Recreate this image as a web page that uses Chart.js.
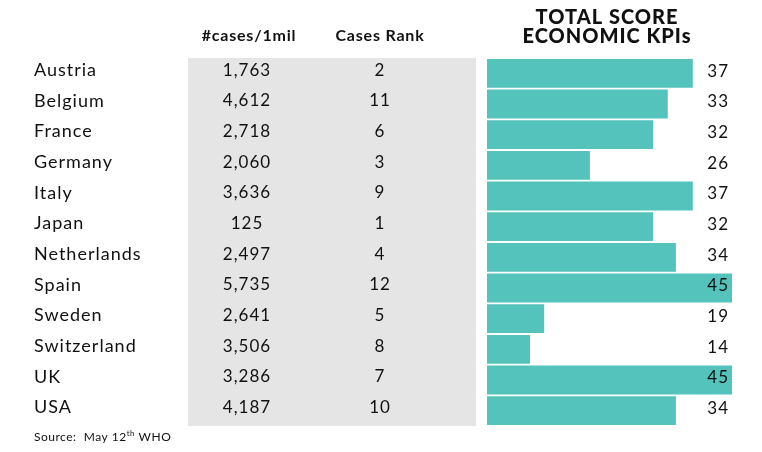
<!DOCTYPE html>
<html>
<head>
<meta charset="utf-8">
<script src="https://cdn.jsdelivr.net/npm/chart.js@4.4.1/dist/chart.umd.min.js"></script>
<style>
  html, body { margin: 0; padding: 0; background: #fff; }
  #wrap { width: 762px; height: 452px; }
</style>
</head>
<body>
<div id="wrap"><canvas id="chart" width="762" height="452"></canvas></div>
<script>
// data
const countries = ['Austria', 'Belgium', 'France', 'Germany', 'Italy', 'Japan',
  'Netherlands', 'Spain', 'Sweden', 'Switzerland', 'UK', 'USA']
const casesPerMil = ['1,763', '4,612', '2,718', '2,060', '3,636', '125',
  '2,497', '5,735', '2,641', '3,506', '3,286', '4,187']
const casesRank = [2, 11, 6, 3, 9, 1, 4, 12, 5, 8, 7, 10]
const scoreLabels = [37, 33, 32, 26, 37, 32, 34, 45, 19, 14, 45, 34]
// bar lengths as drawn (they don't follow the labels exactly)
const barValues = [37.8, 33.2, 30.5, 18.9, 37.8, 30.5, 34.7, 45, 10.5, 7.9, 45, 34.7]

const FONT = 'Lato, "Open Sans", sans-serif'
const TEAL = '#53c3bc'
const GREY = '#e5e5e5'

function spaced(ctx, px) {
    if ('letterSpacing' in ctx) ctx.letterSpacing = px + 'px'
}

const tablePlugin = {
    id: 'table',
    beforeDatasetsDraw(chart) {
        const ctx = chart.ctx
        const area = chart.chartArea
        const y = chart.scales.y
        ctx.save()
        // grey band behind the two number columns
        ctx.fillStyle = GREY
        ctx.fillRect(188, area.top, 288, area.bottom - area.top)

        ctx.fillStyle = '#111'
        ctx.textBaseline = 'middle'

        // country names, left aligned
        ctx.textAlign = 'left'
        ctx.font = '18px ' + FONT
        spaced(ctx, 1)
        for (let i = 0; i < countries.length; i++) {
            ctx.fillText(countries[i], 34, y.getPixelForValue(i) - 3)
        }

        ctx.textAlign = 'center'
        ctx.font = '17px ' + FONT
        spaced(ctx, 1)
        for (let i = 0; i < countries.length; i++) {
            const py = y.getPixelForValue(i) - 3
            ctx.fillText(casesPerMil[i], 247, py)
            ctx.fillText(String(casesRank[i]), 380, py)
        }

        // column headers
        ctx.font = 'bold 16px ' + FONT
        spaced(ctx, 0.8)
        ctx.fillText('#cases/1mil', 249, 36)
        ctx.fillText('Cases Rank', 380, 36)
        ctx.font = '900 20px ' + FONT
        spaced(ctx, 1)
        ctx.fillText('TOTAL SCORE', 607, 18)
        ctx.fillText('ECONOMIC KPIs', 607, 37)

        // source note
        ctx.textAlign = 'left'
        spaced(ctx, 0.5)
        ctx.font = '12px ' + FONT
        ctx.fillText('Source:  May 12', 34, 437)
        const w = ctx.measureText('Source:  May 12').width
        ctx.font = '8px ' + FONT
        ctx.fillText('th', 34 + w, 433)
        const w2 = ctx.measureText('th').width
        ctx.font = '12px ' + FONT
        ctx.fillText(' WHO', 34 + w + w2, 437)
        ctx.restore()
    },
    afterDatasetsDraw(chart) {
        const ctx = chart.ctx
        const y = chart.scales.y
        ctx.save()
        ctx.fillStyle = '#111'
        ctx.textBaseline = 'middle'
        ctx.textAlign = 'right'
        ctx.font = '17px ' + FONT
        spaced(ctx, 1)
        for (let i = 0; i < scoreLabels.length; i++) {
            ctx.fillText(String(scoreLabels[i]), 729, y.getPixelForValue(i) - 2)
        }
        ctx.restore()
    }
}

new Chart(document.getElementById('chart'), {
    type: 'bar',
    data: {
        labels: countries,
        datasets: [{
            data: barValues,
            backgroundColor: TEAL,
            borderWidth: 0,
            barPercentage: 0.94,
            categoryPercentage: 1
        }]
    },
    options: {
        indexAxis: 'y',
        responsive: false,
        animation: false,
        layout: { padding: { top: 58, bottom: 26, left: 487, right: 30 } },
        plugins: {
            legend: { display: false },
            tooltip: { enabled: false }
        },
        scales: {
            x: { display: false, min: 0, max: 45 },
            y: { display: false }
        }
    },
    plugins: [tablePlugin]
})
</script>
</body>
</html>
